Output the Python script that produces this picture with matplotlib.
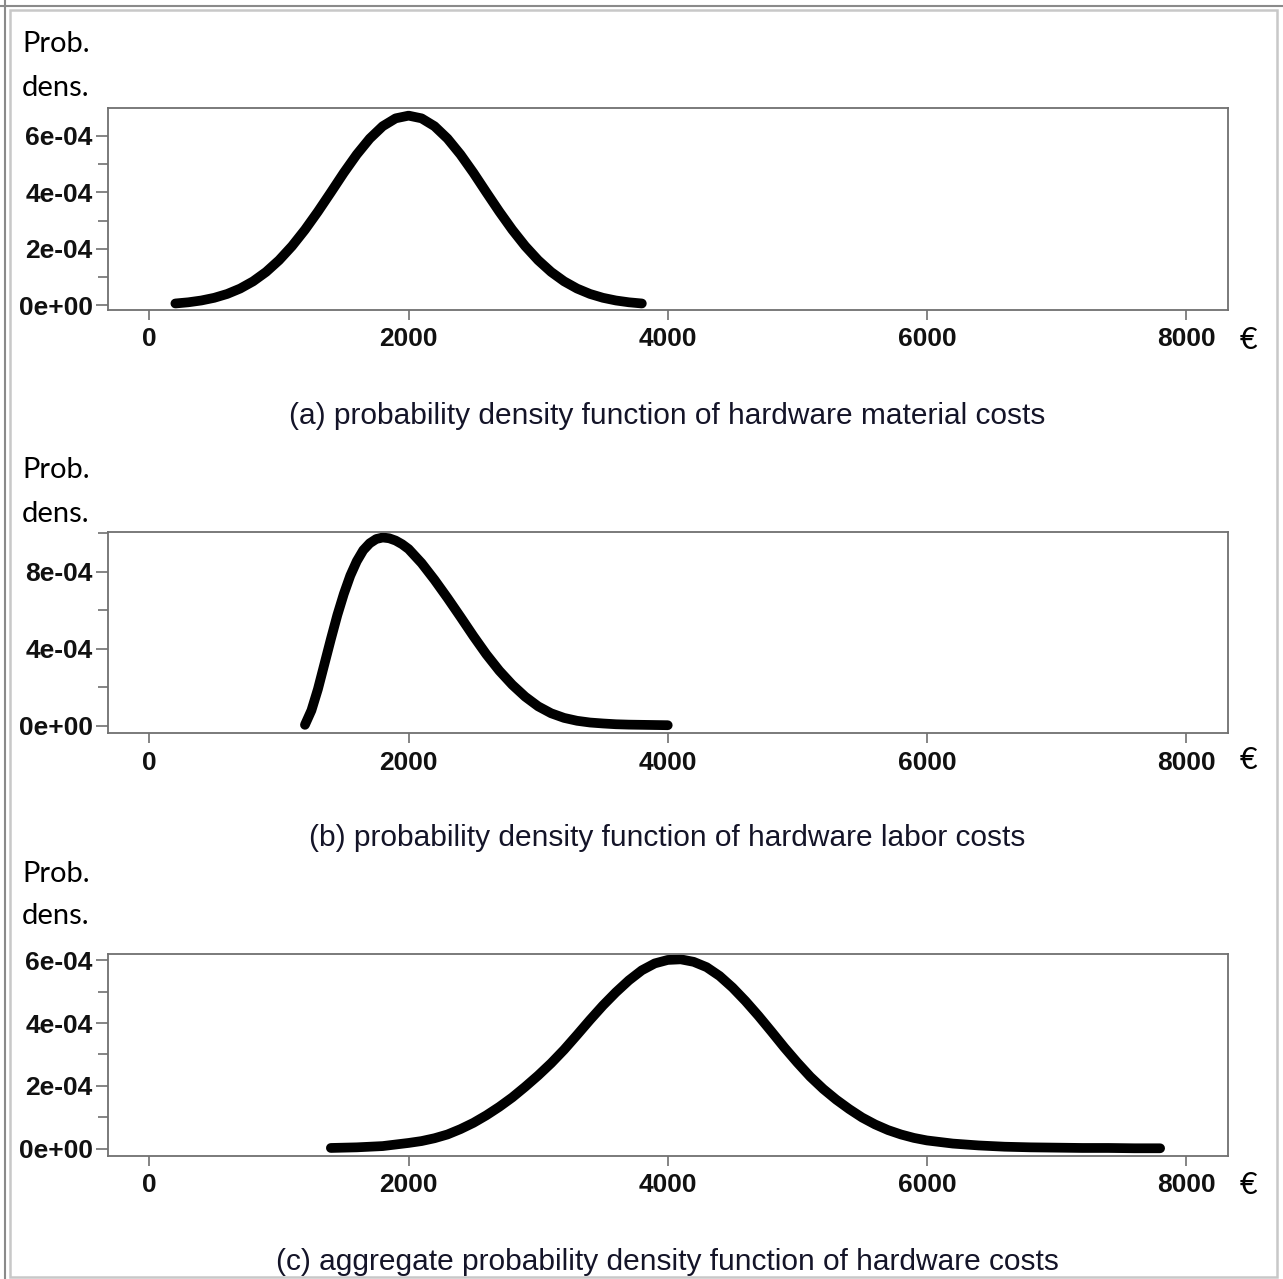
import matplotlib
matplotlib.use("Agg")
import matplotlib.pyplot as plt
from matplotlib.lines import Line2D
from matplotlib.patches import Rectangle

# ---------------- data ----------------
# (a) hardware material costs  (x in EUR, density in units of 1e-4)
mat_x = [200, 300, 400, 500, 600, 700, 800, 900, 1000, 1100, 1200, 1300, 1400,
         1500, 1600, 1700, 1800, 1900, 2000, 2100, 2200, 2300, 2400, 2500, 2600,
         2700, 2800, 2900, 3000, 3100, 3200, 3300, 3400, 3500, 3600, 3700, 3800]
mat_y = [0.064, 0.106, 0.170, 0.265, 0.402, 0.593, 0.849, 1.181, 1.596, 2.096, 2.676,
         3.319, 4.002, 4.696, 5.344, 5.907, 6.345, 6.624, 6.72, 6.624, 6.345, 5.907,
         5.344, 4.696, 4.002, 3.319, 2.676, 2.096, 1.596, 1.181, 0.849, 0.593, 0.402,
         0.265, 0.170, 0.106, 0.064]

# (b) hardware labor costs
lab_x = [1200, 1250, 1300, 1350, 1400, 1450, 1500, 1550, 1600, 1650, 1700, 1750,
         1800, 1850, 1900, 1950, 2000, 2100, 2200, 2300, 2400, 2500, 2600, 2700,
         2800, 2900, 3000, 3100, 3200, 3300, 3400, 3500, 3600, 3700, 3800, 3900, 4000]
lab_y = [0.05, 0.80, 1.90, 3.20, 4.50, 5.75, 6.85, 7.80, 8.55, 9.12, 9.48, 9.70,
         9.78, 9.74, 9.62, 9.43, 9.18, 8.45, 7.58, 6.64, 5.66, 4.66, 3.71, 2.86,
         2.13, 1.51, 1.01, 0.65, 0.41, 0.26, 0.17, 0.12, 0.08, 0.06, 0.05, 0.04, 0.03]

# (c) aggregate hardware costs
agg_x = [1400, 1600, 1800, 2000, 2100, 2200, 2300, 2400, 2500, 2600, 2700, 2800,
         2900, 3000, 3100, 3200, 3300, 3400, 3500, 3600, 3700, 3800, 3900, 4000,
         4100, 4200, 4300, 4400, 4500, 4600, 4700, 4800, 4900, 5000, 5100, 5200,
         5300, 5400, 5500, 5600, 5700, 5800, 5900, 6000, 6200, 6400, 6600, 6800,
         7000, 7200, 7400, 7600, 7800]
agg_y = [0.02, 0.04, 0.08, 0.18, 0.24, 0.33, 0.45, 0.62, 0.82, 1.06, 1.33, 1.63,
         1.97, 2.33, 2.72, 3.15, 3.62, 4.10, 4.56, 4.98, 5.36, 5.68, 5.90, 6.01,
         6.03, 5.95, 5.78, 5.50, 5.13, 4.70, 4.23, 3.73, 3.22, 2.74, 2.29, 1.90,
         1.56, 1.26, 0.99, 0.77, 0.59, 0.45, 0.34, 0.26, 0.16, 0.10, 0.06, 0.04,
         0.03, 0.02, 0.02, 0.01, 0.01]

x_ticks = [0, 2000, 4000, 6000, 8000]
x_tick_labels = ["0", "2000", "4000", "6000", "8000"]
y_ticks_ac = [0, 2e-4, 4e-4, 6e-4]
y_labels_ac = ["0e+00", "2e-04", "4e-04", "6e-04"]
y_minor_ac = [1e-4, 3e-4, 5e-4]
y_ticks_b = [0, 4e-4, 8e-4]
y_labels_b = ["0e+00", "4e-04", "8e-04"]
y_minor_b = [2e-4, 6e-4, 1e-3]

captions = ["(a) probability density function of hardware material costs",
            "(b) probability density function of hardware labor costs",
            "(c) aggregate probability density function of hardware costs"]
ylabel_lines = ["Prob.", "dens."]
unit = "€"
SCALE = 1e-4

# ---------------- layout ----------------
W, H = 1283, 1279
fig = plt.figure(figsize=(W / 100, H / 100), dpi=100)
fig.patch.set_facecolor("white")

def rect(l, t, r, b):
    return [l / W, 1 - b / H, (r - l) / W, (b - t) / H]

def fx(x):
    return x / W

def fy(y):
    return 1 - y / H

panels = [
    dict(box=(108, 108.3, 1227.5, 310), x=mat_x, y=mat_y, ylim=(-1.67e-5, 6.98e-4),
         yt=y_ticks_ac, yl=y_labels_ac, ym=y_minor_ac,
         prob_y=52, dens_y=96.5, cap_y=416, euro_y=340),
    dict(box=(108, 532.3, 1227.5, 733.3), x=lab_x, y=lab_y, ylim=(-3.9e-5, 1.005e-3),
         yt=y_ticks_b, yl=y_labels_b, ym=y_minor_b,
         prob_y=478, dens_y=522, cap_y=838, euro_y=760),
    dict(box=(108, 954.3, 1227.5, 1156), x=agg_x, y=agg_y, ylim=(-2.36e-5, 6.19e-4),
         yt=y_ticks_ac, yl=y_labels_ac, ym=y_minor_ac,
         prob_y=882, dens_y=924, cap_y=1262, euro_y=1185),
]

frame_col = "#707070"
tick_font = dict(family=["Liberation Sans", "DejaVu Sans"], weight="bold", size=19)
label_family = ["Lato", "DejaVu Sans"]

for i, p in enumerate(panels):
    ax = fig.add_axes(rect(*p["box"]))
    ax.plot(p["x"], [v * SCALE for v in p["y"]], color="black", lw=7,
            solid_capstyle="round", solid_joinstyle="round")
    ax.set_xlim(-320, 8320)
    ax.set_ylim(*p["ylim"])
    for s in ax.spines.values():
        s.set_color(frame_col)
        s.set_linewidth(1.3)
    ax.set_xticks(x_ticks)
    ax.set_xticklabels(x_tick_labels, fontdict=tick_font, color="#111111")
    ax.set_yticks(p["yt"])
    ax.set_yticklabels(p["yl"], fontdict=tick_font, color="#111111")
    ax.set_yticks(p["ym"], minor=True)
    ax.tick_params(axis="x", direction="out", length=7.5, width=1.2, color=frame_col, pad=5)
    ax.tick_params(axis="y", which="major", direction="out", length=8.5, width=1.2,
                   color=frame_col, pad=2.5)
    ax.tick_params(axis="y", which="minor", direction="out", length=7.5, width=1.2,
                   color=frame_col)
    ax.patch.set_facecolor("white")

    fig.text(fx(22), fy(p["prob_y"]), ylabel_lines[0], family=label_family,
             size=21, va="baseline", ha="left", color="black")
    fig.text(fx(22), fy(p["dens_y"]), ylabel_lines[1], family=label_family,
             size=21, va="baseline", ha="left", color="black")
    fig.text(fx(1248), fy(p["euro_y"]), unit, family=label_family,
             size=22, va="center", ha="center", color="black")
    fig.text(fx(667), fy(p["cap_y"]), captions[i],
             family=["Liberation Sans", "DejaVu Sans"], size=21.5,
             va="center", ha="center", color="#141428")

# window-like border
fig.add_artist(Line2D([fx(0), fx(W)], [fy(5.5), fy(5.5)], color="#8a8a8a", lw=1.5,
                      transform=fig.transFigure))
fig.add_artist(Line2D([fx(5), fx(5)], [fy(0), fy(H)], color="#8a8a8a", lw=1.5,
                      transform=fig.transFigure))
fig.add_artist(Rectangle((fx(10), fy(1277)), fx(1277) - fx(10), fy(10) - fy(1277),
                         transform=fig.transFigure, fill=False, ec="#c8c8c8", lw=1.8))

fig.savefig("out.png", dpi=100, facecolor="white")
